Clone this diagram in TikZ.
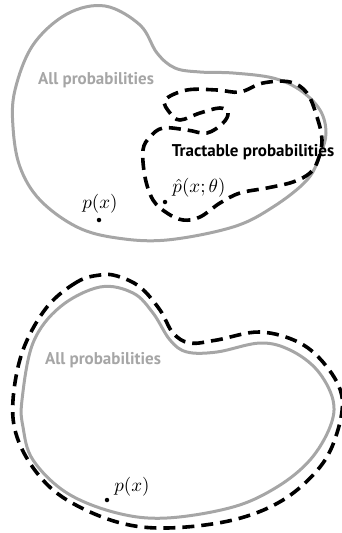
\documentclass[tikz,border=0pt]{standalone}
\usepackage{fontspec}
\newfontfamily\lblfont{PT Sans}
\begin{document}
\begin{tikzpicture}[x=1pt,y=-1pt,
  region/.style={draw=setgray,line width=3pt},
  family/.style={draw=black,line width=3.6pt,dash pattern=on 12pt off 7pt},
  lbl/.style={font=\lblfont\bfseries\fontsize{17}{18}\selectfont,inner sep=0pt},
  mathlbl/.style={font=\fontsize{10}{12}\selectfont,inner sep=0pt,scale=1.9},
  pt/.style={circle,fill=black,inner sep=0pt,minimum size=4.5pt}]
\definecolor{setgray}{RGB}{166,166,166}
\useasboundingbox (0,0) rectangle (341,533);

% --- upper panel: all densities and a restricted tractable family ---
\draw[region] plot[smooth cycle,tension=0.6] coordinates {
  (13,127) (15,90) (33,45) (67,14) (105,6) (140,25) (157,53) (175,68)
  (200,72) (233,73) (273,78) (300,90) (320,110) (326,133) (320,155)
  (307,180) (273,207) (233,227) (167,240) (117,238) (77,227) (40,200) (20,167)};
\draw[family] plot[smooth cycle,tension=0.6] coordinates {
  (165,100) (187,90) (217,90) (240,92) (263,83) (290,82) (307,93)
  (317,117) (322,140) (318,160) (310,173) (293,182) (267,188) (240,193)
  (220,203) (200,217) (183,220) (167,213) (153,200) (145,177) (143,150)
  (150,137) (163,128) (187,130) (207,133) (223,123) (228,113) (220,108)
  (200,113) (180,120) (170,113)};
\node[lbl,text=setgray] (allA) at (96,80) {All probabilities};
\node[lbl] (tract) at (253,152) {Tractable probabilities};
\node[pt] (pA) at (99,220) {};
\node[mathlbl] (pAl) at (100,204) {$p(x)$};
\node[pt] (q) at (165,202) {};
\node[mathlbl] (ql) at (199,188) {$\hat{p}(x;\theta)$};

% --- lower panel: a family that covers every density ---
\draw[family] plot[smooth cycle,tension=0.6] coordinates {
  (100,275) (77,282) (47,307) (23,350) (13,400) (17,437) (37,473)
  (67,500) (117,522) (167,528) (233,520) (283,500) (320,467) (337,433)
  (342,397) (327,367) (300,343) (260,332) (217,340) (190,343) (173,333)
  (160,310) (140,287) (117,276)};
\draw[region] plot[smooth cycle,tension=0.6] coordinates {
  (22,400) (33,343) (60,307) (100,287) (133,293) (153,313) (170,340)
  (187,352) (217,352) (260,343) (290,350) (317,370) (333,400) (330,427)
  (310,460) (277,487) (233,507) (167,518) (117,513) (67,493) (33,460) (23,427)};
\node[lbl,text=setgray] (allB) at (103,360) {All probabilities};
\node[pt] (pB) at (107,500) {};
\node[mathlbl] (pBl) at (132,487) {$p(x)$};
\end{tikzpicture}
\end{document}
